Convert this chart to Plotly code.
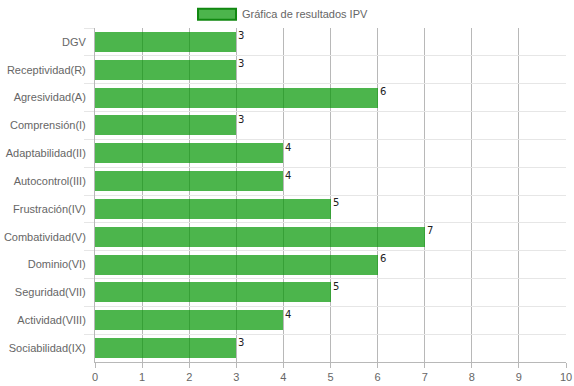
import plotly.graph_objects as go

categories = ["DGV", "Receptividad(R)", "Agresividad(A)", "Comprensión(I)",
              "Adaptabilidad(II)", "Autocontrol(III)", "Frustración(IV)",
              "Combatividad(V)", "Dominio(VI)", "Seguridad(VII)",
              "Actividad(VIII)", "Sociabilidad(IX)"]
values = [3, 3, 6, 3, 4, 4, 5, 7, 6, 5, 4, 3]
series_name = "Gráfica de resultados IPV"
x_ticks = list(range(0, 11))

fig = go.Figure()
fig.add_trace(go.Bar(
    y=categories, x=values, orientation="h", width=0.72,
    marker=dict(color="rgba(0,150,0,0.7)", line=dict(width=0)),
    name=series_name, showlegend=False, hoverinfo="x+y",
))

for c, v in zip(categories, values):
    fig.add_annotation(x=v, y=c, text=str(v), showarrow=False,
                       xanchor="left", yanchor="middle", xshift=0, yshift=6,
                       font=dict(family="DejaVu Sans", size=10, color="#222"))

# legend drawn as box + label
fig.add_shape(type="rect", xref="paper", yref="paper",
              x0=0.2187, x1=0.2994, y0=1.025, y1=1.0575,
              fillcolor="rgba(0,150,0,0.7)", line=dict(color="#118811", width=2))
fig.add_annotation(xref="paper", yref="paper", x=0.3079, y=1.041,
                   text=series_name, showarrow=False, xanchor="left", yanchor="middle",
                   font=dict(family="Liberation Sans", size=11, color="#666"))

fig.update_layout(
    width=574, height=386,
    margin=dict(l=95, r=8, t=28, b=24),
    paper_bgcolor="white", plot_bgcolor="white",
    font=dict(family="Liberation Sans", size=11, color="#666"),
    bargap=0,
)
fig.update_xaxes(range=[0, 10], tickvals=x_ticks, showgrid=True,
                 gridcolor="#b8b8b8", gridwidth=1, zeroline=False,
                 showline=True, linecolor="#b8b8b8", linewidth=1,
                 ticks="outside", ticklen=5, tickcolor="#b8b8b8",
                 tickfont=dict(size=11, color="#666"), fixedrange=True,
                 automargin=False)
fig.update_yaxes(autorange="reversed", type="category", tickson="boundaries",
                 showgrid=True, gridcolor="#e6e6e6", gridwidth=1,
                 showline=True, linecolor="#b8b8b8", linewidth=1,
                 ticks="outside", ticklen=10, tickcolor="#e6e6e6",
                 ticklabelstandoff=6,
                 tickfont=dict(size=11, color="#666"), fixedrange=True,
                 automargin=False)

fig.write_html("out.html", config={"displayModeBar": False},
               post_script="document.body.style.margin='0';")
